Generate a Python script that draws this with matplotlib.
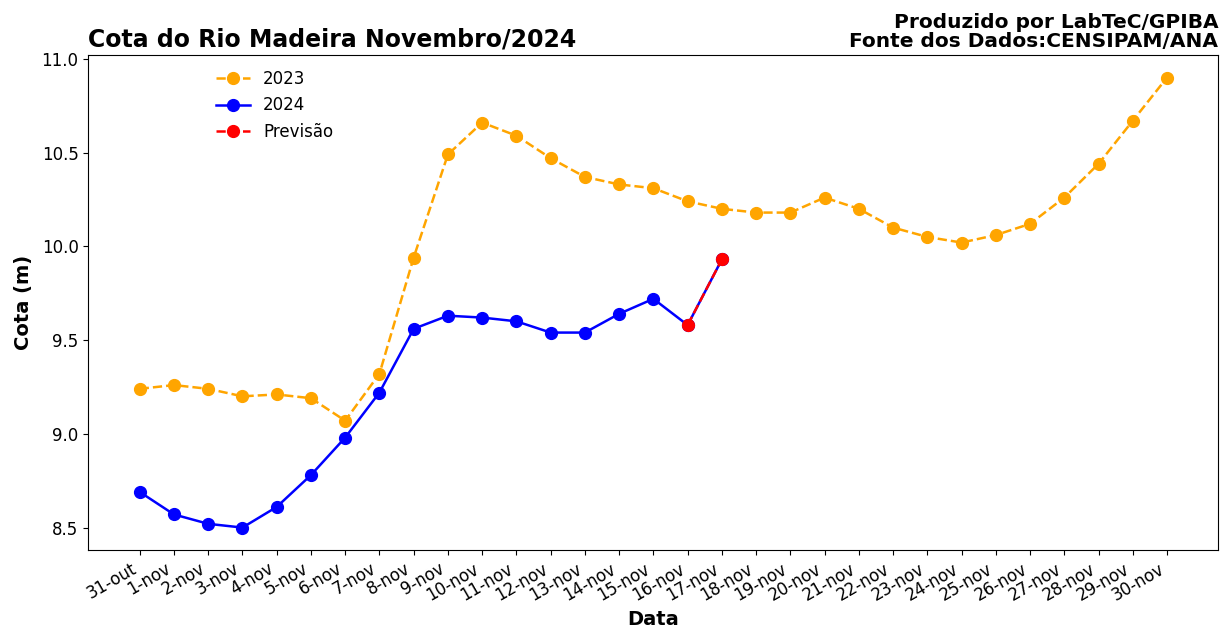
import matplotlib
matplotlib.use("Agg")
import matplotlib.pyplot as plt

datas = ["31-out"] + [f"{d}-nov" for d in range(1, 31)]
cota_2023 = [9.24, 9.26, 9.24, 9.20, 9.21, 9.19, 9.07, 9.32, 9.94, 10.49, 10.66,
             10.59, 10.47, 10.37, 10.33, 10.31, 10.24, 10.20, 10.18, 10.18, 10.26,
             10.20, 10.10, 10.05, 10.02, 10.06, 10.12, 10.26, 10.44, 10.67, 10.90]
cota_2024 = [8.69, 8.57, 8.52, 8.50, 8.61, 8.78, 8.98, 9.22, 9.56, 9.63, 9.62,
             9.60, 9.54, 9.54, 9.64, 9.72, 9.58, 9.93]
previsao_datas = ["16-nov", "17-nov"]
previsao = [9.58, 9.93]

fig, ax = plt.subplots(figsize=(12.27, 6.33), dpi=100)
x = list(range(len(datas)))
ax.plot(x, cota_2023, linestyle="--", marker="o", color="orange", markersize=8.5,
        linewidth=1.8, label="2023")
ax.plot(x[:len(cota_2024)], cota_2024, linestyle="-", marker="o", color="blue",
        markersize=8.5, linewidth=1.8, label="2024")
px = [datas.index(d) for d in previsao_datas]
ax.plot(px, previsao, linestyle="--", marker="o", color="red", markersize=8.5,
        linewidth=1.8, label="Previsão")

ax.set_xticks(x)
ax.set_xticklabels(datas, rotation=30, ha="right", fontsize=12)
ax.tick_params(axis="y", labelsize=12)
ax.set_yticks([8.5, 9.0, 9.5, 10.0, 10.5, 11.0])
ax.set_yticklabels(["8.5", "9.0", "9.5", "10.0", "10.5", "11.0"])
ax.set_xlabel("Data", fontsize=14, fontweight="bold")
ax.set_ylabel("Cota (m)", fontsize=14, fontweight="bold", labelpad=6)
ax.set_title("Cota do Rio Madeira Novembro/2024", loc="left", fontsize=17,
             fontweight="bold")
ax.set_title("Produzido por LabTeC/GPIBA\nFonte dos Dados:CENSIPAM/ANA", loc="right",
             fontsize=14.5, fontweight="bold", linespacing=1.0)
ax.legend(loc="upper left", bbox_to_anchor=(0.1, 1.0), frameon=False, fontsize=12)

fig.subplots_adjust(left=0.072, right=0.993, top=0.913, bottom=0.131)
fig.savefig("out.png", dpi=100)
